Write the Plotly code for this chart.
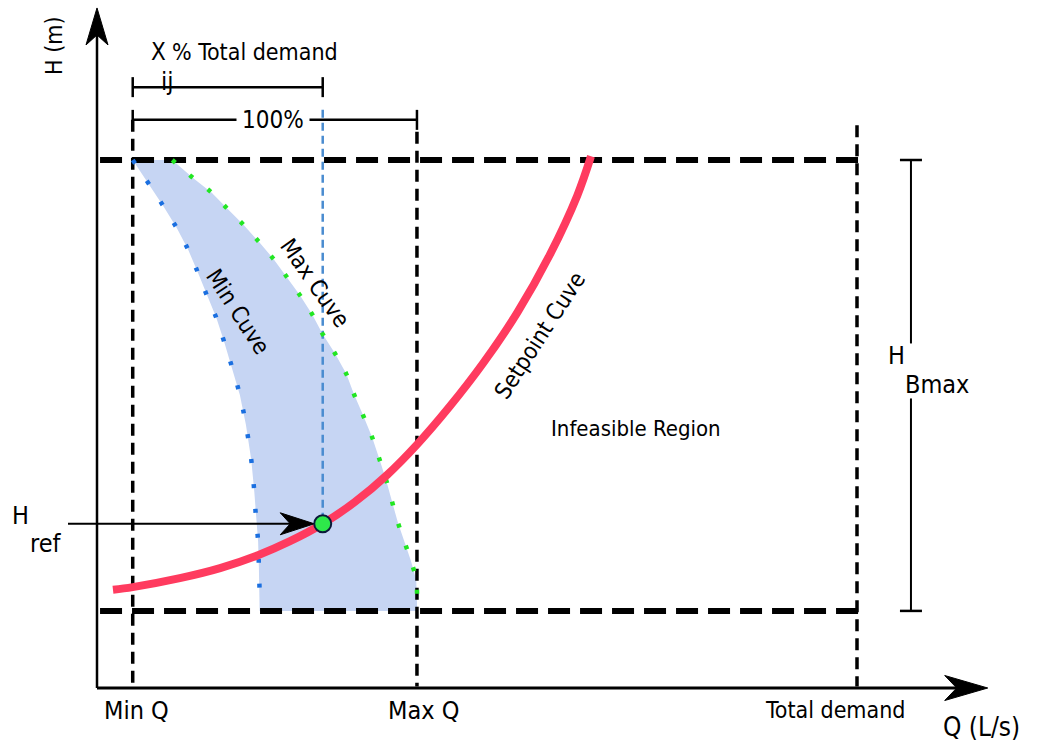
import plotly.graph_objects as go

# ---------------------------------------------------------------
# Operating limits (Q: flow in L/s units, H: head in m units)
# ---------------------------------------------------------------
Q_MIN = 4.7
Q_MAX = 42.1
Q_TOTAL = 100.0
H_MIN = 14.6
H_MAX = 100.0

# operating point on the setpoint curve
Q_SET = 29.7
H_REF = 31.1

# setpoint (system) curve
setpoint_q = [2.1, 4.7, 10.9, 16.2, 21.1, 25.4, 29.7, 33.9, 38.2, 42.1,
              46.4, 50.8, 55.3, 59.6, 63.2, 65.0]
setpoint_h = [18.6, 19.1, 20.8, 22.7, 25.1, 27.8, 31.1, 35.2, 40.4, 46.1,
              53.3, 61.5, 71.1, 82.1, 93.3, 100.7]

# pump curve at minimum speed
min_curve_q = [4.7, 7.0, 8.8, 10.5, 12.0, 13.3, 14.5, 15.7, 16.7, 17.8,
               18.8, 19.6, 20.3, 20.7, 20.9, 21.2, 21.3, 21.4, 21.4]
min_curve_h = [100.0, 95.1, 91.1, 87.1, 83.0, 78.6, 74.2, 70.1, 65.7, 60.6,
               55.5, 49.8, 43.2, 37.1, 32.6, 27.7, 22.9, 18.2, 14.6]

# pump curve at maximum speed
max_curve_q = [9.9, 12.8, 15.1, 17.2, 19.3, 21.3, 23.2, 25.0, 26.7, 28.3,
               29.7, 31.3, 32.8, 33.8, 35.0, 36.2, 37.1, 38.0, 38.8, 39.6,
               40.5, 41.3, 42.0, 42.1, 42.1]
max_curve_h = [100.0, 96.4, 93.8, 90.7, 87.7, 84.5, 81.3, 77.8, 74.4, 70.8,
               67.0, 63.4, 59.5, 55.7, 51.7, 47.5, 43.6, 39.6, 35.4, 31.3,
               27.5, 24.1, 20.5, 16.3, 14.6]

# ---------------------------------------------------------------
# Canvas geometry
# ---------------------------------------------------------------
W, H = 1037, 745
SX = 7.6     # px per Q unit
SY = 5.28    # px per H unit
ORIGIN_X = 97
ORIGIN_Y = 688

X_RANGE = [-ORIGIN_X / SX, (W - ORIGIN_X) / SX]
Y_RANGE = [-(H - ORIGIN_Y) / SY, ORIGIN_Y / SY]

Q_AXIS_END = 117.2
H_AXIS_END = 128.8
BAR_PART_H = 113.8     # "X_ij % Total demand" dimension bar
BAR_FULL_H = 107.6     # "100%" dimension bar
Q_HB_BAR = 107.1       # H_Bmax dimension bar
TOTAL_LINE_TOP = 106.6

FONT_FAMILY = "DejaVu Sans Condensed, Liberation Sans Narrow, Arial Narrow, sans-serif"
FILL_BLUE = "#c6d5f3"
RED = "#ff3b5f"
DOT_BLUE = "#1a6fe0"
DOT_GREEN = "#22e622"
DASH_BLUE = "#4a8cd0"


def px_q(p):
    return p / SX


def px_h(p):
    return p / SY


fig = go.Figure()

# feasible region between the min and max speed curves
fig.add_trace(go.Scatter(
    x=min_curve_q + max_curve_q[::-1],
    y=min_curve_h + max_curve_h[::-1],
    mode="lines", fill="toself", fillcolor=FILL_BLUE,
    line=dict(width=0), hoverinfo="skip"))

# limit lines
for hv in (H_MAX, H_MIN):
    fig.add_trace(go.Scatter(
        x=[0.4, Q_TOTAL + 0.7], y=[hv, hv], mode="lines",
        line=dict(color="black", width=6, dash="22px,10px"), hoverinfo="skip"))

for qv, top in ((Q_MIN, BAR_FULL_H), (Q_MAX, BAR_FULL_H - px_h(12)),
                (Q_TOTAL, TOTAL_LINE_TOP)):
    fig.add_trace(go.Scatter(
        x=[qv, qv], y=[top, 0.3], mode="lines",
        line=dict(color="black", width=3.5, dash="12px,7px"), hoverinfo="skip"))

# operating flow marker line
fig.add_trace(go.Scatter(
    x=[Q_SET, Q_SET], y=[BAR_FULL_H + px_h(10), H_REF], mode="lines",
    line=dict(color=DASH_BLUE, width=2.5, dash="8px,5px"), hoverinfo="skip"))

# speed curves (dotted)
fig.add_trace(go.Scatter(
    x=min_curve_q[:-1], y=min_curve_h[:-1], mode="lines",
    line=dict(color=DOT_BLUE, width=4.5, dash="4px,21px", shape="spline"),
    hoverinfo="skip"))
fig.add_trace(go.Scatter(
    x=max_curve_q[:-1], y=max_curve_h[:-1], mode="lines",
    line=dict(color=DOT_GREEN, width=4.5, dash="4px,19px", shape="spline"),
    hoverinfo="skip"))

# setpoint curve
fig.add_trace(go.Scatter(
    x=setpoint_q, y=setpoint_h, mode="lines",
    line=dict(color=RED, width=8, shape="spline"), hoverinfo="skip"))


def arrow_head(q, h, direction, length, width, notch):
    """Notched arrowhead path with tip at (q, h); sizes in pixels."""
    if direction == "right":
        pts = [(q, h),
               (q - px_q(length), h + px_h(width / 2)),
               (q - px_q(length - notch), h),
               (q - px_q(length), h - px_h(width / 2))]
    else:  # up
        pts = [(q, h),
               (q - px_q(width / 2), h - px_h(length)),
               (q, h - px_h(length - notch)),
               (q + px_q(width / 2), h - px_h(length))]
    return "M " + " L ".join(f"{a},{b}" for a, b in pts) + " Z"


shapes = []


def seg(x0, y0, x1, y1, width=2.5, color="black"):
    shapes.append(dict(type="line", xref="x", yref="y", x0=x0, y0=y0, x1=x1, y1=y1,
                       line=dict(color=color, width=width)))


def head(path):
    shapes.append(dict(type="path", xref="x", yref="y", path=path,
                       fillcolor="black", line=dict(color="black", width=1)))


# axes
seg(0, 0, Q_AXIS_END - px_q(20), 0, width=3)
head(arrow_head(Q_AXIS_END, 0, "right", 43, 25, 12))
seg(0, 0, 0, H_AXIS_END - px_h(20), width=2.5)
head(arrow_head(0, H_AXIS_END, "up", 37, 22, 10))

# "X_ij % Total demand" dimension bar
seg(Q_MIN, BAR_PART_H, Q_SET, BAR_PART_H)
seg(Q_MIN, BAR_PART_H - px_h(10), Q_MIN, BAR_PART_H + px_h(10))
seg(Q_SET, BAR_PART_H - px_h(10), Q_SET, BAR_PART_H + px_h(10))

# "100%" dimension bar
seg(Q_MIN, BAR_FULL_H, Q_MAX, BAR_FULL_H)
seg(Q_MIN, BAR_FULL_H - px_h(10), Q_MIN, BAR_FULL_H + px_h(10))
seg(Q_MAX, BAR_FULL_H - px_h(10), Q_MAX, BAR_FULL_H + px_h(10))

# H_Bmax dimension bar, split around its label
H_MID = (H_MAX + H_MIN) / 2
cap = px_q(11)
seg(Q_HB_BAR - cap, H_MAX, Q_HB_BAR + cap, H_MAX, width=2.5)
seg(Q_HB_BAR - cap, H_MIN, Q_HB_BAR + cap, H_MIN, width=2.5)
seg(Q_HB_BAR, H_MAX, Q_HB_BAR, H_MID + px_h(42), width=2)
seg(Q_HB_BAR, H_MID - px_h(13), Q_HB_BAR, H_MIN, width=2)

# H_ref arrow to the operating point
DOT_R = 8.5
tip_q = Q_SET - px_q(DOT_R)
seg(-px_q(29), H_REF, tip_q - px_q(20), H_REF, width=2)
head(arrow_head(tip_q, H_REF, "right", 34, 22, 10))

# operating point
shapes.append(dict(type="circle", xref="x", yref="y", xsizemode="pixel",
                   ysizemode="pixel", xanchor=Q_SET, yanchor=H_REF,
                   x0=-DOT_R, x1=DOT_R, y0=-DOT_R, y1=DOT_R,
                   fillcolor="#2ee84a", line=dict(color="#0b1a3a", width=2)))


def label(x, y, text, size=24, **kw):
    d = dict(x=x, y=y, xref="x", yref="y", text=text, showarrow=False,
             borderpad=0,
             font=dict(family=FONT_FAMILY, size=size, color="black"))
    d.update(kw)
    return d


annotations = [
    label(Q_MIN, 0, "Min Q", size=25, xshift=4, yshift=-22),
    label(Q_MAX, 0, "Max Q", size=25, xshift=7, yshift=-22),
    label(Q_TOTAL, 0, "Total demand", size=23, xshift=-22, yshift=-22),
    label(Q_AXIS_END, 0, "Q (L/s)", size=26, xshift=-6, yshift=-39),
    label(0, H_AXIS_END, "H (m)", size=23, textangle=-90, xshift=-43, yshift=-38),
    label(0, H_REF, "H", size=25, xshift=-77, yshift=8),
    label(0, H_REF, "ref", size=25, xshift=-51, yshift=-20),
    label(Q_HB_BAR, H_MID, "H", size=25, xshift=-14, yshift=30),
    label(Q_HB_BAR, H_MID, "Bmax", size=25, xshift=26, yshift=1),
    label((Q_MIN + Q_MAX) / 2, BAR_FULL_H, "100%", xshift=-2,
          bgcolor="white", borderpad=5),
    label(Q_MIN, BAR_PART_H, "X", xanchor="left", xshift=17, yshift=35),
    label(Q_MIN, BAR_PART_H, "ij", size=25, xshift=35, yshift=6),
    label(Q_MIN, BAR_PART_H, "% Total demand", size=23, xanchor="left",
          xshift=38, yshift=35),
    label(28.7, 76.7, "Max Cuve", size=23, textangle=55),
    label(18.6, 71.2, "Min Cuve", size=23, textangle=57),
    label(58.3, 66.8, "Setpoint Cuve", size=23, textangle=-57),
    label(70.9, 49.2, "Infeasible Region", size=22),
]

fig.update_layout(
    width=W, height=H,
    margin=dict(l=0, r=0, t=0, b=0),
    paper_bgcolor="white", plot_bgcolor="white",
    showlegend=False,
    xaxis=dict(range=X_RANGE, visible=False, fixedrange=True),
    yaxis=dict(range=Y_RANGE, visible=False, fixedrange=True),
    shapes=shapes,
    annotations=annotations,
)

fig.write_html("out.html")
